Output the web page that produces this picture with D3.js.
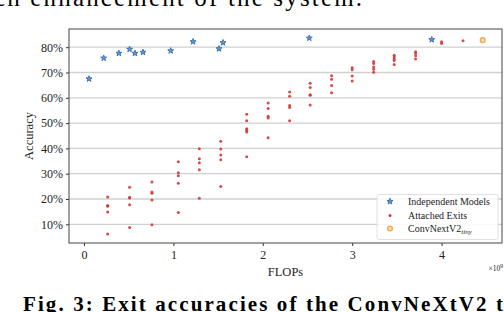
<!DOCTYPE html>
<html>
<head>
<meta charset="utf-8">
<script src="https://cdn.jsdelivr.net/npm/d3@7/dist/d3.min.js"></script>
<style>
  body { margin: 0; background: #fff; }
  svg text { font-family: "Liberation Serif", "Times New Roman", serif; }
</style>
</head>
<body>
<svg id="chart" width="504" height="312"></svg>
<script>
// FLOPs in units of 1e9, accuracy in %
const independentFlops = [0.056, 0.22, 0.39, 0.51, 0.57, 0.66, 0.97, 1.22, 1.51, 1.555, 2.52, 3.89];
const independentAcc   = [67.5, 75.7, 77.6, 79.2, 77.6, 78.0, 78.6, 82.2, 79.4, 81.8, 83.6, 83.0];

// attached exits, one column of accuracies per backbone size
const exitFlops = [0.265, 0.51, 0.76, 1.055, 1.29, 1.53, 1.82, 2.06, 2.30, 2.53, 2.77, 3.0, 3.24, 3.47, 3.71, 4.0, 4.24];
const exitAcc = [
  [20.8, 17.4, 17.1, 14.9, 6.2],
  [24.6, 20.7, 20.4, 17.7, 8.7],
  [26.7, 22.8, 22.3, 19.6, 9.8],
  [34.7, 30.4, 29.2, 26.2, 14.7],
  [39.9, 35.9, 34.3, 31.6, 20.3],
  [42.8, 39.8, 37.4, 35.5, 24.9],
  [53.5, 50.9, 47.8, 47.2, 46.5, 36.7],
  [57.9, 55.8, 52.7, 52.0, 44.2],
  [62.3, 60.6, 57.0, 56.2, 50.9],
  [65.8, 64.1, 61.2, 61.0, 57.2],
  [68.7, 67.3, 64.9, 62.0],
  [71.9, 71.1, 68.6, 66.6],
  [74.4, 73.6, 72.2, 71.3, 70.1],
  [76.8, 76.1, 75.3, 74.7, 73.2],
  [78.2, 77.6, 76.6, 75.3],
  [82.2, 81.5],
  [82.6]
];

const convFlops = [4.46];
const convAcc = [82.8];

const xTicks = [0, 1, 2, 3, 4];
const yTicks = [10, 20, 30, 40, 50, 60, 70, 80];
const legendLabels = ["Independent Models", "Attached Exits", "ConvNextV2"];

const svg = d3.select("#chart");

// surrounding paper text, clipped by the picture edges as in the page scan
svg.append("text")
  .attr("x", -6).attr("y", 6)
  .attr("font-size", 25)
  .attr("textLength", 368)
  .text("ch enhancement of the system.");

svg.append("text")
  .attr("x", 23).attr("y", 311)
  .attr("font-size", 21)
  .attr("font-weight", "bold")
  .attr("textLength", 480)
  .text("Fig. 3: Exit accuracies of the ConvNeXtV2 t");

const margin = { left: 69, top: 29, right: 502, bottom: 243 };

const x = d3.scaleLinear().domain([-0.168, 4.676]).range([margin.left, margin.right]);
const y = d3.scaleLinear().domain([2.6, 87.2]).range([margin.bottom, margin.top]);

// grid lines
svg.append("g")
  .selectAll("line")
  .data(yTicks)
  .join("line")
  .attr("x1", margin.left).attr("x2", margin.right)
  .attr("y1", d => y(d)).attr("y2", d => y(d))
  .attr("stroke", "#b0b0b0")
  .attr("stroke-opacity", 0.6)
  .attr("stroke-width", 1.3);

// axes
const xAxis = d3.axisBottom(x).tickValues(xTicks).tickSize(3).tickPadding(4).tickFormat(d3.format("d"));
const yAxis = d3.axisLeft(y).tickValues(yTicks).tickSize(3).tickPadding(3).tickFormat(d => d + "%");

const gx = svg.append("g").attr("transform", `translate(0, ${ margin.bottom })`).call(xAxis);
const gy = svg.append("g").attr("transform", `translate(${ margin.left }, 0)`).call(yAxis);
[gx, gy].forEach(g => {
  g.attr("font-family", null);
  g.select(".domain").remove();
  g.selectAll("text").attr("font-size", 12).attr("fill", "#222");
  g.selectAll("line").attr("stroke", "#333");
});

// frame
svg.append("rect")
  .attr("x", margin.left).attr("y", margin.top)
  .attr("width", margin.right - margin.left)
  .attr("height", margin.bottom - margin.top)
  .attr("fill", "none")
  .attr("stroke", "#444")
  .attr("stroke-width", 1);

// axis labels
svg.append("text")
  .attr("x", (margin.left + margin.right) / 2).attr("y", 276)
  .attr("text-anchor", "middle")
  .attr("font-size", 12.5)
  .attr("fill", "#222")
  .text("FLOPs");

svg.append("text")
  .attr("transform", `translate(33, ${ (margin.top + margin.bottom) / 2 }) rotate(-90)`)
  .attr("text-anchor", "middle")
  .attr("font-size", 12.5)
  .attr("fill", "#222")
  .text("Accuracy");

const exp = svg.append("text")
  .attr("x", 503).attr("y", 271)
  .attr("text-anchor", "end")
  .attr("font-size", 7.5)
  .attr("fill", "#222");
exp.append("tspan").text("×10");
exp.append("tspan").attr("font-size", 5.5).attr("dy", -3).text("9");

// markers
const star = d3.symbol().type(d3.symbolStar).size(11);
const blue = "#3a73b2";
const starFill = "#6b9bd0";
const red = "#d03a35";
const orange = "#f5a84a";

const exitPoints = exitFlops.flatMap((f, i) => exitAcc[i].map(a => ({ f, a })));

svg.append("g")
  .selectAll("circle")
  .data(exitPoints)
  .join("circle")
  .attr("cx", d => x(d.f))
  .attr("cy", d => y(d.a))
  .attr("r", 1.5)
  .attr("fill", red)
  .attr("fill-opacity", 0.9);

svg.append("g")
  .selectAll("path")
  .data(independentFlops.map((f, i) => ({ f, a: independentAcc[i] })))
  .join("path")
  .attr("d", star)
  .attr("transform", d => `translate(${ x(d.f) }, ${ y(d.a) })`)
  .attr("fill", starFill)
  .attr("stroke", blue)
  .attr("stroke-width", 1);

svg.append("g")
  .selectAll("circle")
  .data(convFlops.map((f, i) => ({ f, a: convAcc[i] })))
  .join("circle")
  .attr("cx", d => x(d.f))
  .attr("cy", d => y(d.a))
  .attr("r", 2.4)
  .attr("fill", "#fcdcb0")
  .attr("stroke", orange)
  .attr("stroke-width", 1.3);

// legend
const legend = svg.append("g");
legend.append("rect")
  .attr("x", 377).attr("y", 194.5)
  .attr("width", 121).attr("height", 45)
  .attr("rx", 2)
  .attr("fill", "#fff").attr("fill-opacity", 0.85)
  .attr("stroke", "#d8d8d8").attr("stroke-width", 0.8);

const rows = [201.5, 215.5, 228.5];
legend.append("path")
  .attr("d", star)
  .attr("transform", `translate(390, ${ rows[0] })`)
  .attr("fill", starFill).attr("stroke", blue).attr("stroke-width", 1);
legend.append("circle")
  .attr("cx", 390).attr("cy", rows[1]).attr("r", 1.5).attr("fill", red);
legend.append("circle")
  .attr("cx", 390).attr("cy", rows[2]).attr("r", 2.4)
  .attr("fill", "#fcdcb0").attr("stroke", orange).attr("stroke-width", 1.3);

legendLabels.forEach((label, i) => {
  const t = legend.append("text")
    .attr("x", 408).attr("y", rows[i] + 3.5)
    .attr("font-size", 10)
    .attr("fill", "#222")
    .text(label);
  if (i === 2) {
    t.append("tspan").attr("font-size", 7).attr("font-style", "italic").attr("dy", 2).text("tiny");
  }
});
</script>
</body>
</html>
